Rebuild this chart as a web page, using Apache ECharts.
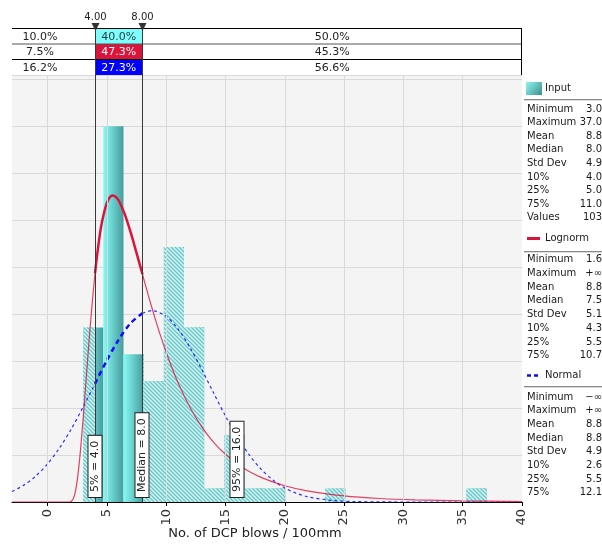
<!DOCTYPE html>
<html><head><meta charset="utf-8">
<script src="https://cdn.jsdelivr.net/npm/echarts@6/dist/echarts.min.js"></script>
<style>html,body{margin:0;padding:0;background:#fff}#c{width:602px;height:545px}</style>
</head><body><div id="c"></div>
<script>
const FONT = '"DejaVu Sans", Verdana, sans-serif';

// ---- data ----
const binEdges = [3, 4.7, 6.4, 8.1, 9.8, 11.5, 13.2, 14.9, 16.6, 18.3, 20, 21.7, 23.4, 25.1, 26.8, 28.5, 30.2, 31.9, 33.6, 35.3, 37];
const binCounts = [13, 28, 11, 9, 19, 13, 1, 5, 1, 1, 0, 0, 1, 0, 0, 0, 0, 0, 0, 1];
const valueCount = 103;

const lognormPts = [[-3,0],[1.6,0],[1.8,0.000003],[2.0,0.00022],[2.25,0.0025],[2.5,0.0092],[2.75,0.0207],[3.0,0.0356],[3.25,0.0521],[3.5,0.0687],[3.75,0.0840],[4.0,0.0973],[4.25,0.1080],[4.5,0.1168],[4.75,0.1229],[5.0,0.1273],[5.25,0.1297],[5.5,0.1304],[5.75,0.1298],[6.0,0.1283],[6.5,0.1226],[7.0,0.1148],[7.5,0.1060],[8.0,0.0969],[8.5,0.0878],[9,0.0792],[9.5,0.0711],[10,0.0637],[10.5,0.0569],[11,0.0507],[12,0.0403],[13,0.0320],[14,0.0254],[15,0.0203],[16,0.0162],[17,0.0130],[18,0.0105],[20,0.0069],[22,0.0046],[25,0.0026],[28,0.0015],[31,0.0009],[35,0.0005],[40,0.0002]];
const normalPts = [[-3,0.00448],[-2,0.00718],[-1,0.01102],[0,0.01623],[1,0.02293],[2,0.03109],[3,0.04041],[4,0.05039],[5,0.06028],[6,0.06916],[7,0.07611],[8,0.08035],[8.8,0.08142],[9,0.08135],[10,0.07901],[11,0.07361],[12,0.06579],[13,0.05639],[14,0.04636],[15,0.03657],[16,0.02766],[17,0.02007],[18,0.01397],[19,0.00933],[20,0.00597],[21,0.00367],[22,0.00216],[24,0.00066],[26,0.00017],[28,0.00004],[31,0],[40,0]];

const xTicks = [0, 5, 10, 15, 20, 25, 30, 35, 40];
const xMin = -3, xMax = 40, yMax = 0.1817;

const delimiters = [4, 8];
const delimiterLabels = ['4.00', '8.00'];
const leftPcts = ['10.0%', '7.5%', '16.2%'];
const midPcts = ['40.0%', '47.3%', '27.3%'];
const rightPcts = ['50.0%', '45.3%', '56.6%'];

const markerX = [4, 8, 16];
const markerText = ['5% = 4.0', 'Median = 8.0', '95% = 16.0'];

const statLabelsInput = ['Minimum', 'Maximum', 'Mean', 'Median', 'Std Dev', '10%', '25%', '75%', 'Values'];
const statValuesInput = ['3.0', '37.0', '8.8', '8.0', '4.9', '4.0', '5.0', '11.0', '103'];
const statLabelsFit = ['Minimum', 'Maximum', 'Mean', 'Median', 'Std Dev', '10%', '25%', '75%'];
const statValuesLognorm = ['1.6', '+\u221e', '8.8', '7.5', '5.1', '4.3', '5.5', '10.7'];
const statValuesNormal = ['\u2212\u221e', '+\u221e', '8.8', '8.8', '4.9', '2.6', '5.5', '12.1'];

const xAxisTitle = 'No. of DCP blows / 100mm';

// ---- styles ----
const C_RED = '#dc143c', C_BLUE = '#0a0aff';
const solidGrad = {type:'linear', x:0, y:0, x2:1, y2:0, colorStops:[{offset:0,color:'#84fbf6'},{offset:1,color:'#489c9c'}]};
const hatchCanvas = (function(){
  const c = document.createElement('canvas'); c.width = 4; c.height = 4;
  const g = c.getContext('2d');
  g.fillStyle = '#a2e1e1'; g.fillRect(0,0,4,4);
  g.fillStyle = '#6ec2c2'; for (let i=0;i<4;i++) g.fillRect(i, i, 1, 1);
  g.fillStyle = '#cff2f2'; for (let i=0;i<4;i++) g.fillRect((i+2)%4, i, 1, 1);
  return c;
})();
const hatchFill = {image: hatchCanvas, repeat: 'repeat'};

const histData = binCounts.map((c, i) => [binEdges[i], binEdges[i+1], c / (valueCount * (binEdges[i+1] - binEdges[i]))]);

function renderBin(params, api) {
  const x0 = api.value(0), x1 = api.value(1), d = api.value(2);
  if (!(d > 0)) return null;
  const pTop = api.coord([x0, d]), pBot = api.coord([x1, 0]);
  const children = [{type:'rect', shape:{x:pTop[0], y:pTop[1], width:pBot[0]-pTop[0], height:pBot[1]-pTop[1]}, style:{fill: solidGrad}}];
  const segs = [];
  if (x0 < delimiters[0]) segs.push([x0, Math.min(x1, delimiters[0])]);
  if (x1 > delimiters[1]) segs.push([Math.max(x0, delimiters[1]), x1]);
  segs.forEach(s => {
    const a = api.coord([s[0], d]), b = api.coord([s[1], 0]);
    children.push({type:'rect', shape:{x:a[0], y:a[1], width:b[0]-a[0], height:b[1]-a[1]}, style:{fill: hatchFill}});
  });
  return {type:'group', children};
}

const lo = delimiters[0], hi = delimiters[1];
function seg(pts, a, b) { return pts.filter(p => p[0] >= a && p[0] <= b); }
function lineSeries(data, color, width, type, z, opacity) {
  return {type:'line', data, showSymbol:false, smooth:0.3, z, silent:true,
    lineStyle:{color, width, type, opacity: opacity == null ? 1 : opacity}};
}

const chart = echarts.init(document.getElementById('c'));
chart.setOption({
  animation:false,
  backgroundColor:'#ffffff',
  textStyle:{fontFamily:FONT},
  grid:{left:12, right:80, top:75, bottom:43, show:true, backgroundColor:'#f4f4f4', borderWidth:0},
  xAxis:{type:'value', min:xMin, max:xMax,
    axisLine:{show:true, onZero:false, lineStyle:{color:'#000', width:1}},
    axisTick:{show:true, customValues:xTicks, length:4, lineStyle:{color:'#000'}},
    axisLabel:{customValues:xTicks, rotate:90, margin:7, fontSize:13, color:'#333', fontFamily:FONT},
    splitLine:{show:false}},
  yAxis:{type:'value', min:0, max:yMax, interval:0.02,
    axisLine:{show:false}, axisTick:{show:false}, axisLabel:{show:false},
    splitLine:{show:true, lineStyle:{color:'#d9d9d9', width:1}}},
  series:[
    {type:'line', data:[], z:1, silent:true,
      markLine:{silent:true, symbol:['none','none'], label:{show:false}, animation:false,
        lineStyle:{color:'#d9d9d9', width:1, type:'solid'},
        data: xTicks.filter(v => v < xMax).map(v => ({xAxis:v}))}},
    {type:'custom', renderItem:renderBin, data:histData, encode:{x:[0,1], y:2}, z:2, silent:true},
    lineSeries(seg(normalPts, xMin, lo), C_BLUE, 1.2, [3,3], 3, 0.85),
    lineSeries(seg(normalPts, hi, xMax), C_BLUE, 1.2, [3,3], 3, 0.85),
    lineSeries(seg(lognormPts, xMin, lo), C_RED, 1.2, 'solid', 3, 0.8),
    lineSeries(seg(lognormPts, hi, xMax), C_RED, 1.2, 'solid', 3, 0.8),
    lineSeries(seg(normalPts, lo, hi), C_BLUE, 2.5, [5,4], 4),
    lineSeries(seg(lognormPts, lo, hi), C_RED, 2.5, 'solid', 4)
  ]
});

// ---- overlays positioned through the chart's scales ----
const yBase = chart.convertToPixel({yAxisIndex:0}, 0);
const yTop = chart.convertToPixel({yAxisIndex:0}, yMax);
const xL = chart.convertToPixel({xAxisIndex:0}, xMin);
const xR = chart.convertToPixel({xAxisIndex:0}, xMax);
const dPx = delimiters.map(v => chart.convertToPixel({xAxisIndex:0}, v));
const crisp = v => Math.round(v) + 0.5;
const G = [];

// table
const rowY = [28.5, 44, 59.5, yTop];
const cellFill = ['#7ffcfc', C_RED, '#0000ff'];
const cellText = ['#1e3c3c', '#ffffff', '#ffffff'];
for (let r = 0; r < 3; r++) {
  G.push({type:'rect', z:20, shape:{x:crisp(dPx[0]), y:rowY[r], width:crisp(dPx[1])-crisp(dPx[0]), height:rowY[r+1]-rowY[r]}, style:{fill:cellFill[r]}});
  const cy = (rowY[r] + rowY[r+1]) / 2 + 0.5;
  G.push({type:'text', z:30, x:40, y:cy, style:{text:leftPcts[r], font:'11px ' + FONT, fill:'#222', align:'center', verticalAlign:'middle'}});
  G.push({type:'text', z:30, x:(dPx[0]+dPx[1])/2, y:cy, style:{text:midPcts[r], font:'11px ' + FONT, fill:cellText[r], align:'center', verticalAlign:'middle'}});
  G.push({type:'text', z:30, x:(dPx[1]+xR)/2, y:cy, style:{text:rightPcts[r], font:'11px ' + FONT, fill:'#222', align:'center', verticalAlign:'middle'}});
}
[[28.5,'#000'],[44,'#555'],[59.5,'#000']].forEach(([y,c]) => {
  G.push({type:'line', z:25, shape:{x1:xL, y1:y, x2:xR, y2:y}, style:{stroke:c, lineWidth:1}});
});
G.push({type:'line', z:25, shape:{x1:crisp(xR)-1, y1:28, x2:crisp(xR)-1, y2:yTop}, style:{stroke:'#000', lineWidth:1}});

// delimiter lines, triangles and labels
dPx.forEach((x, i) => {
  const cx = crisp(x);
  G.push({type:'line', z:40, shape:{x1:cx, y1:28, x2:cx, y2:yBase}, style:{stroke:'#3a3a3a', lineWidth:1}});
  G.push({type:'polygon', z:41, shape:{points:[[cx-4,23],[cx+4,23],[cx,31]]}, style:{fill:'#333'}});
  G.push({type:'text', z:41, x:cx, y:17, style:{text:delimiterLabels[i], font:'10px ' + FONT, fill:'#222', align:'center', verticalAlign:'middle'}});
});

// percentile marker boxes
markerX.forEach((v, i) => {
  const x = chart.convertToPixel({xAxisIndex:0}, v);
  G.push({type:'text', z:45, x:Math.round(x), y:yBase - 5, rotation:Math.PI/2,
    style:{text:markerText[i], font:'11px ' + FONT, fill:'#222', align:'left', verticalAlign:'middle',
      backgroundColor:'#fff', borderColor:'#222', borderWidth:1, padding:[1,5,1,5]}});
});

// axis title
G.push({type:'text', z:30, x:255, y:534, style:{text:xAxisTitle, font:'13px ' + FONT, fill:'#222', align:'center', verticalAlign:'middle'}});

// legend panel
const LX = 527, VX = 602, LF = '10px ' + FONT;
function statBlock(labels, values, y0, step) {
  labels.forEach((l, i) => {
    const y = y0 + i * step;
    G.push({type:'text', z:30, x:LX, y, style:{text:l, font:LF, fill:'#1a1a1a', align:'left', verticalAlign:'middle'}});
    G.push({type:'text', z:30, x:VX, y, style:{text:values[i], font:LF, fill:'#1a1a1a', align:'right', verticalAlign:'middle'}});
  });
}
function sep(y) {
  G.push({type:'line', z:30, shape:{x1:524, y1:y+0.5, x2:602, y2:y+0.5}, style:{stroke:'#888', lineWidth:1}});
  G.push({type:'line', z:30, shape:{x1:524, y1:y+1.5, x2:602, y2:y+1.5}, style:{stroke:'#dcdcdc', lineWidth:1}});
}
G.push({type:'rect', z:30, shape:{x:526, y:82, width:16, height:13}, style:{fill:{type:'linear',x:0,y:0,x2:1,y2:1,colorStops:[{offset:0,color:'#8ef5f0'},{offset:1,color:'#3c8f8f'}]}}});
G.push({type:'text', z:30, x:545, y:88.5, style:{text:'Input', font:LF, fill:'#1a1a1a', align:'left', verticalAlign:'middle'}});
sep(99);
statBlock(statLabelsInput, statValuesInput, 109, 13.6);
G.push({type:'line', z:30, shape:{x1:527, y1:238.5, x2:540, y2:238.5}, style:{stroke:C_RED, lineWidth:3}});
G.push({type:'text', z:30, x:545, y:238, style:{text:'Lognorm', font:LF, fill:'#1a1a1a', align:'left', verticalAlign:'middle'}});
sep(251);
statBlock(statLabelsFit, statValuesLognorm, 259.5, 13.75);
G.push({type:'line', z:30, shape:{x1:527, y1:375.5, x2:541, y2:375.5}, style:{stroke:C_BLUE, lineWidth:2.5, lineDash:[4,3]}});
G.push({type:'text', z:30, x:545, y:375, style:{text:'Normal', font:LF, fill:'#1a1a1a', align:'left', verticalAlign:'middle'}});
sep(386);
statBlock(statLabelsFit, statValuesNormal, 397, 13.7);

chart.setOption({graphic: G});
</script></body></html>
